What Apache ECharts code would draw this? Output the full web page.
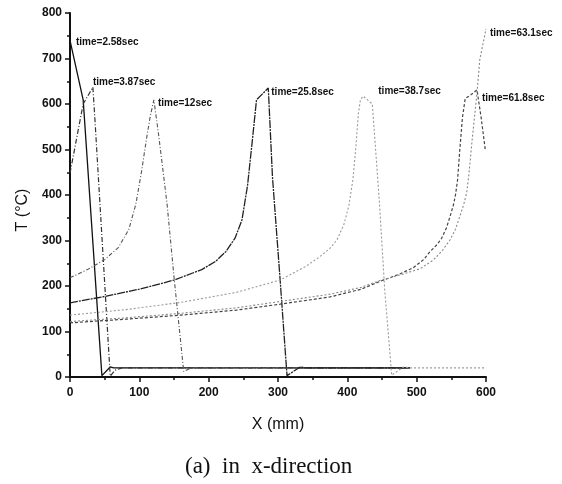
<!DOCTYPE html>
<html>
<head>
<meta charset="utf-8">
<script src="https://cdn.jsdelivr.net/npm/echarts@6/dist/echarts.min.js"></script>
<style>
  html, body { margin: 0; padding: 0; background: #fff; }
  #chart { width: 562px; height: 484px; }
</style>
</head>
<body>
<div id="chart"></div>
<script>
// Temperature profiles along the x-direction, [X (mm), T (°C)]
const timeLabels = ['time=2.58sec', 'time=3.87sec', 'time=12sec', 'time=25.8sec',
                    'time=38.7sec', 'time=61.8sec', 'time=63.1sec'];

const profile2_58 = [[0,740],[19,609],[46,3],[58,22],[63,20],[490,20]];
const profile3_87 = [[0,448],[19,600],[33,637],[36,565],[58,2],[65,15],[75,20],[490,20]];
const profile12 = [[0,218],[25,236],[50,258],[70,285],[85,325],[95,380],[103,450],[111,530],
                   [116,575],[121,609],[128,530],[140,380],[150,220],[164,12],[175,20],[490,20]];
const profile25_8 = [[0,163],[50,177],[100,193],[150,213],[190,236],[210,254],[225,276],[238,305],
                     [248,345],[256,420],[263,520],[269,609],[286,635],[292,440],[303,215],[313,3],
                     [332,22],[340,20],[490,20]];
const profile38_7 = [[0,136],[80,148],[160,164],[240,186],[303,213],[340,243],[360,264],[375,283],
                     [385,301],[395,335],[402,375],[408,433],[412,500],[416,580],[419,610],[423,617],
                     [436,600],[446,390],[454,190],[464,4],[481,22],[490,20],[600,20]];
const profile61_8 = [[0,119],[80,127],[160,136],[240,147],[303,160],[375,176],[420,193],[447,210],
                     [475,226],[495,240],[510,258],[519,275],[530,292],[536,305],[543,328],[548,352],
                     [553,378],[556,400],[559,433],[562,495],[566,570],[570,612],[578,620],[587,631],
                     [593,570],[599,499]];
const profile63_1 = [[0,122],[80,130],[160,140],[240,152],[303,166],[375,182],[420,197],[447,212],
                     [480,226],[505,238],[524,257],[537,278],[548,301],[556,325],[562,352],[568,380],
                     [572,404],[575,440],[580,521],[584,580],[587,624],[591,697],[596,735],[600,765]];

const xTicks = [0, 100, 200, 300, 400, 500, 600];
const yTicks = [0, 100, 200, 300, 400, 500, 600, 700, 800];

const profiles = [profile2_58, profile3_87, profile12, profile25_8, profile38_7, profile61_8, profile63_1];

// stroke style and peak-label offset for each profile
const styles = [
  { color: '#111', type: 'solid',        width: 1.3, off: [6, 2]  },
  { color: '#333', type: [5, 2, 1, 2],   width: 1.2, off: [0, -5] },
  { color: '#555', type: [4, 2, 1, 2],   width: 1.1, off: [4, 3]  },
  { color: '#222', type: [8, 1, 2, 1],   width: 1.3, off: [3, 4]  },
  { color: '#999', type: [2, 2],         width: 1.1, off: [15, -5]},
  { color: '#444', type: [3, 2],         width: 1.2, off: [5, 8]  },
  { color: '#888', type: [2, 2],         width: 1.1, off: [4, 4]  }
];

const labelFont = { fontFamily: 'Liberation Sans, Arial, sans-serif', fontWeight: 'bold',
                    fontSize: 10, color: '#111' };

const series = profiles.map((data, i) => ({
  name: timeLabels[i],
  type: 'line',
  data: data,
  symbol: 'none',
  lineStyle: { color: styles[i].color, type: styles[i].type, width: styles[i].width },
  markPoint: {
    symbol: 'circle',
    symbolSize: 0,
    data: [{ type: 'max', valueDim: 'y' }],
    label: Object.assign({
      show: true,
      formatter: timeLabels[i],
      position: styles[i].off,
      align: 'left',
      verticalAlign: 'middle'
    }, labelFont)
  }
}));

const axisFont = { fontFamily: 'Liberation Sans, Arial, sans-serif', fontWeight: 'bold',
                   fontSize: 12, color: '#111' };

const chart = echarts.init(document.getElementById('chart'), null, { renderer: 'canvas' });
chart.setOption({
  animation: false,
  backgroundColor: '#fff',
  title: {
    text: '(a)  in  x-direction',
    left: 185,
    top: 455,
    padding: 0,
    textStyle: { fontFamily: 'Liberation Serif, Times New Roman, serif', fontWeight: 'normal',
                 fontSize: 23, color: '#111' }
  },
  grid: { left: 70, right: 76, top: 13, bottom: 107, containLabel: false },
  xAxis: {
    type: 'value',
    min: xTicks[0],
    max: xTicks[xTicks.length - 1],
    interval: xTicks[1] - xTicks[0],
    name: 'X (mm)',
    nameLocation: 'middle',
    nameGap: 40,
    nameTextStyle: { fontFamily: 'Liberation Sans, Arial, sans-serif', fontSize: 16, color: '#111' },
    axisLine: { onZero: false, lineStyle: { color: '#111', width: 2 } },
    axisTick: { show: true, inside: false, length: 5, lineStyle: { color: '#111', width: 1.5 } },
    minorTick: { show: true, splitNumber: 2, length: 3, lineStyle: { color: '#111', width: 1.5 } },
    axisLabel: Object.assign({ margin: 10 }, axisFont),
    splitLine: { show: false }
  },
  yAxis: {
    type: 'value',
    min: yTicks[0],
    max: yTicks[yTicks.length - 1],
    interval: yTicks[1] - yTicks[0],
    name: 'T (°C)',
    nameLocation: 'middle',
    nameGap: 38,
    nameTextStyle: { fontFamily: 'Liberation Sans, Arial, sans-serif', fontSize: 16, color: '#111',
                     padding: [0, 30, 0, 0] },
    axisLine: { onZero: false, lineStyle: { color: '#111', width: 2 } },
    axisTick: { show: true, inside: false, length: 5, lineStyle: { color: '#111', width: 1.5 } },
    minorTick: { show: true, splitNumber: 2, length: 3, lineStyle: { color: '#111', width: 1.5 } },
    axisLabel: Object.assign({ margin: 8 }, axisFont),
    splitLine: { show: false }
  },
  series: series
});
</script>
</body>
</html>
